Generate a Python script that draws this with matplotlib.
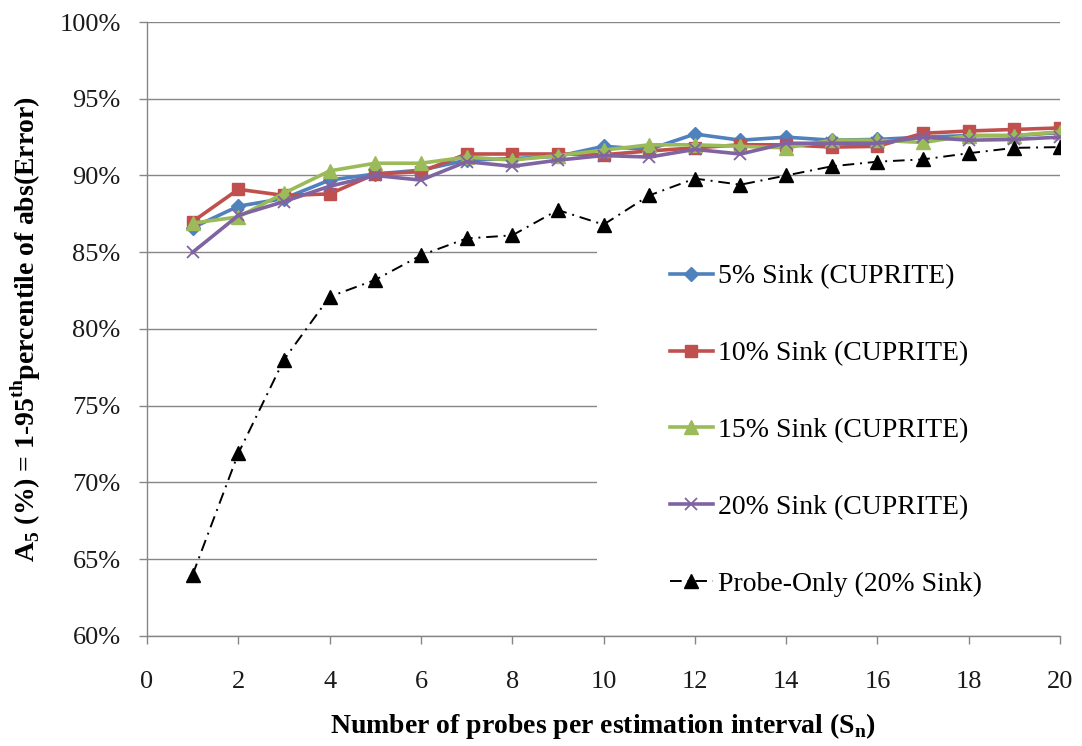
import matplotlib
matplotlib.use("Agg")
import matplotlib.pyplot as plt
import matplotlib.patches as mpatches
from matplotlib.ticker import FuncFormatter

plt.rcParams['font.family'] = ['Liberation Serif', 'DejaVu Serif']
plt.rcParams['mathtext.fontset'] = 'custom'
plt.rcParams['mathtext.rm'] = 'Liberation Serif'
plt.rcParams['mathtext.bf'] = 'Liberation Serif:bold'

# data
probes = list(range(1, 21))
sink_5 = [86.6, 88.0, 88.5, 89.7, 90.1, 90.35, 91.0, 91.1, 91.25, 91.9,
          91.7, 92.7, 92.3, 92.5, 92.3, 92.35, 92.5, 92.6, 92.6, 92.8]
sink_10 = [87.0, 89.1, 88.7, 88.8, 90.1, 90.25, 91.4, 91.4, 91.4, 91.35,
           91.6, 91.8, 92.0, 92.0, 91.85, 91.9, 92.75, 92.9, 93.0, 93.1]
sink_15 = [86.9, 87.3, 88.85, 90.3, 90.8, 90.8, 91.2, 91.0, 91.3, 91.65,
           92.0, 92.0, 91.9, 91.8, 92.3, 92.3, 92.15, 92.6, 92.6, 92.85]
sink_20 = [85.0, 87.4, 88.3, 89.3, 90.0, 89.7, 90.9, 90.6, 91.0, 91.3,
           91.2, 91.7, 91.4, 92.1, 92.1, 92.1, 92.5, 92.3, 92.35, 92.5]
probe_only = [64.0, 71.9, 78.0, 82.1, 83.2, 84.8, 85.9, 86.1, 87.75, 86.8,
              88.7, 89.8, 89.4, 90.0, 90.6, 90.9, 91.05, 91.45, 91.8, 91.85]

labels = ['5% Sink (CUPRITE)', '10% Sink (CUPRITE)', '15% Sink (CUPRITE)',
          '20% Sink (CUPRITE)', 'Probe-Only (20% Sink)']

grey = '#868686'

fig = plt.figure(figsize=(10.82, 7.46), dpi=100)
ax = fig.add_axes([0.1359, 0.1475, 0.8438, 0.823])

ax.plot(probes, sink_5, color='#4F81BD', lw=2.6, marker='D', ms=7.5, label=labels[0], zorder=3)
ax.plot(probes, sink_10, color='#C0504D', lw=2.6, marker='s', ms=8.5, label=labels[1], zorder=3)
ax.plot(probes, sink_15, color='#9BBB59', lw=2.6, marker='^', ms=9.5, label=labels[2], zorder=3)
ax.plot(probes, sink_20, color='#8064A2', lw=2.6, marker='x', ms=9, mew=1.3, label=labels[3], zorder=3)
ax.plot(probes, probe_only, color='black', lw=1.4, ls=(0, (6, 3, 1, 3)), marker='^', ms=10,
        label=labels[4], zorder=3)

ax.set_xlim(0, 20)
ax.set_ylim(60, 100)
ax.set_xticks(range(0, 21, 2))
ax.set_yticks(range(60, 101, 5))
ax.yaxis.set_major_formatter(FuncFormatter(lambda v, p: '%d%%' % v))

ax.yaxis.grid(True, color=grey, lw=1.0, zorder=0.5)
ax.set_axisbelow(True)

for s in ['top', 'right']:
    ax.spines[s].set_visible(False)
for s in ['left', 'bottom']:
    ax.spines[s].set_color(grey)
    ax.spines[s].set_linewidth(1.0)

ax.tick_params(axis='both', colors=grey, labelcolor='#1a1a1a', length=6, width=1.0,
               labelsize=19, direction='out')
ax.tick_params(axis='x', pad=19)
ax.tick_params(axis='y', pad=13)

# white area behind the legend hides the grid
ax.add_patch(mpatches.Rectangle((0.493, 0.002), 0.507, 0.67, transform=ax.transAxes,
                                facecolor='white', edgecolor='none', zorder=1))

ax.set_xlabel(r'Number of probes per estimation interval (S$_\mathbf{n}$)',
              fontsize=20, fontweight='bold', labelpad=13)
ax.set_ylabel(r'A$_\mathbf{5}$ (%) = 1-95$^\mathbf{th}$percentile of abs(Error)',
              fontsize=20, fontweight='bold', labelpad=12)

ax.legend(loc='upper left', bbox_to_anchor=(0.619, 1 - 264 / 746), bbox_transform=fig.transFigure,
          frameon=False, fontsize=20, handlelength=1.55, handletextpad=0.18,
          labelspacing=1.85, borderpad=0, borderaxespad=0)

fig.savefig('out.png', dpi=100)
